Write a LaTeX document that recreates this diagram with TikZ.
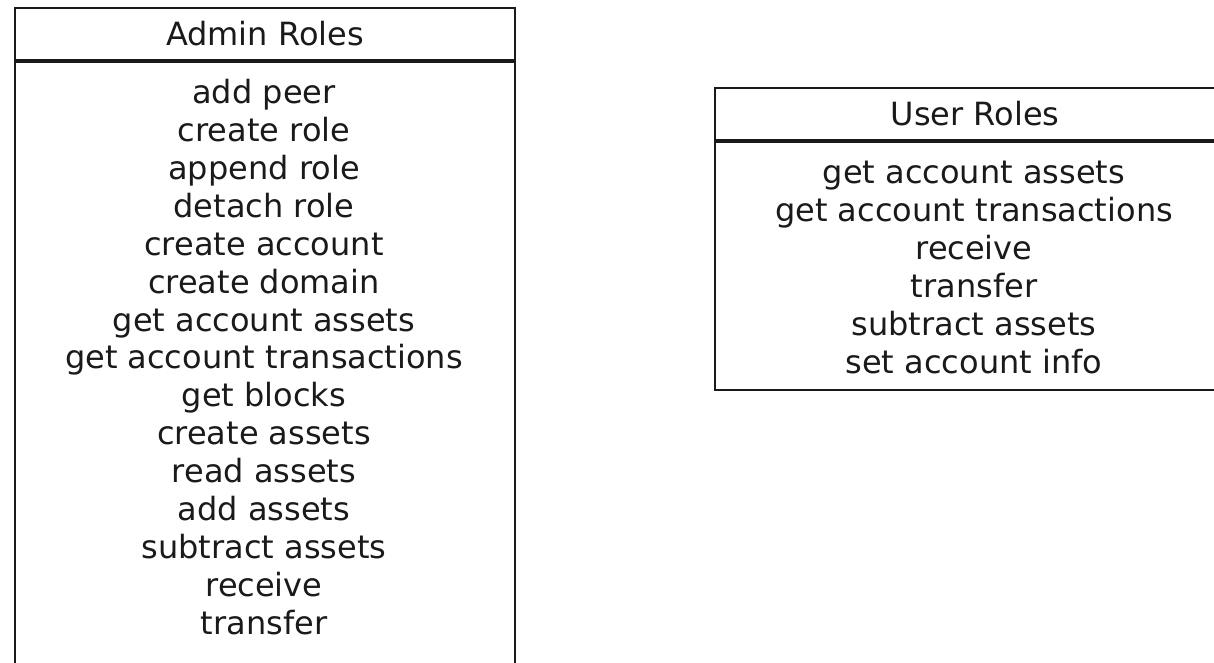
\documentclass[tikz,border=0pt]{standalone}
\usepackage{fontspec}
\setmainfont{DejaVu Sans}
\usetikzlibrary{positioning}
\definecolor{Ink}{HTML}{1A1A1A}
\tikzset{
  rolehead/.style={draw=Ink,line width=1pt,minimum height=26pt,inner sep=0pt,
    font=\fontsize{16}{18.95}\selectfont,text=Ink},
  rolebody/.style={draw=Ink,line width=1pt,inner sep=0pt},
  rolelist/.style={align=center,inner sep=0pt,font=\fontsize{16}{18.95}\selectfont,text=Ink}
}
\begin{document}
\begin{tikzpicture}[x=1pt,y=1pt]
        \useasboundingbox (0,0) rectangle (607,-331.5);
        % admin box
        \node[rolehead,minimum width=250pt,anchor=north west] (admin head) at (7,-3.5) {Admin Roles};
        \node[rolebody,minimum width=250pt,minimum height=320pt,below=0pt of admin head] (admin body) {};
        \node[rolelist] (admin list) at (132,-178.5) {add peer\\create role\\append role\\detach role\\
          create account\\create domain\\get account assets\\get account transactions\\get blocks\\
          create assets\\read assets\\add assets\\subtract assets\\receive\\transfer};
        % user box
        \node[rolehead,minimum width=260pt,anchor=north west] (user head) at (357,-43.5) {User Roles};
        \node[rolebody,minimum width=260pt,minimum height=124pt,below=0pt of user head] (user body) {};
        \node[rolelist] (user list) at (487,-133.7) {get account assets\\get account transactions\\
          receive\\transfer\\subtract assets\\set account info};
      \end{tikzpicture}
\end{document}
